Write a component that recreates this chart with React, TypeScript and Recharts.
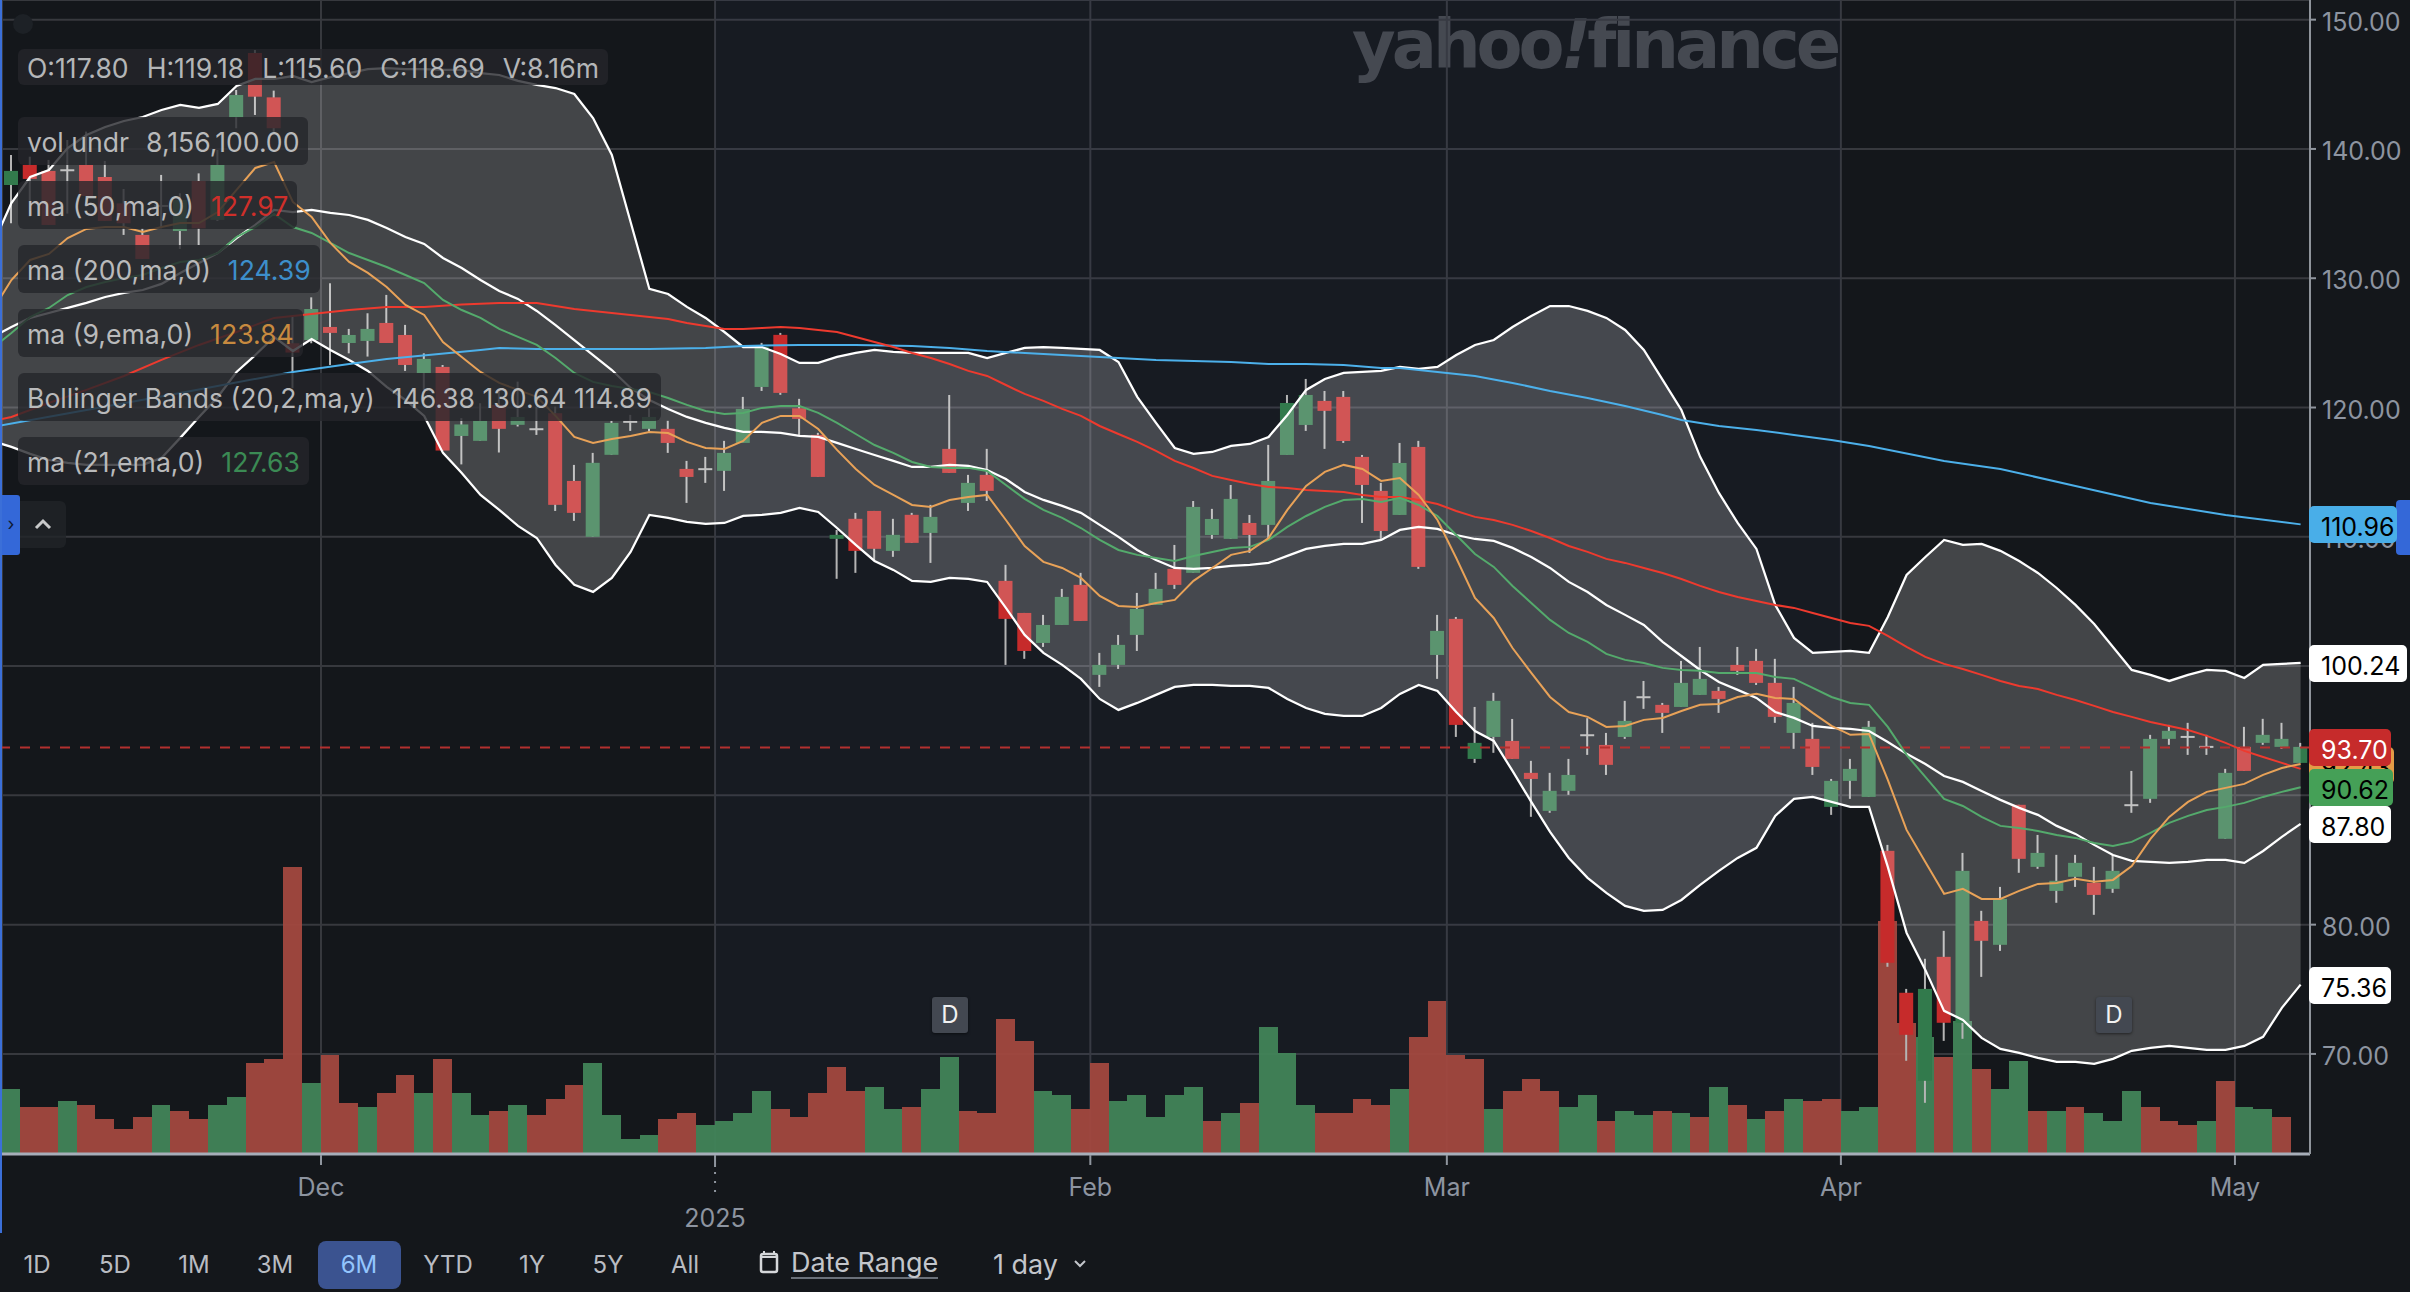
import React from "react"
import { ComposedChart, Bar, Line, Area, XAxis, YAxis, CartesianGrid, ReferenceArea, ReferenceLine } from "recharts"

const opens = [137.21,138.76,138.3,138.3,138.76,137.83,135.79,133.35,135.54,133.65,137.52,134.51,142.45,147.42,143.99,124.97,125.22,126.23,124.99,125.15,126.54,125.61,122.67,123.14,117.8,117.42,120.2,118.66,118.27,119.56,114.32,110,116.34,118.84,118.35,118.35,115.25,115.18,115.1,117.26,121.59,125.62,119.94,117.88,109.84,111.39,112,108.91,111.7,110.3,116.8,112.62,114.79,106.59,104.11,101.79,103.18,106.28,99.32,100.09,102.41,104.73,107.52,107.21,110.14,109.84,111.07,110.92,116.33,118.65,120.51,120.82,116.18,113.55,111.69,116.95,100.86,103.65,92.82,94.52,94.21,91.74,88.8,90.35,94.6,93.9,94.52,97.54,97,96.84,97.77,98.08,100.09,100.4,98.7,94.83,94.37,89.11,91.12,89.88,85.71,74.73,67.92,77.51,72.41,80.29,78.44,89.27,84.47,82.61,83.7,83.23,82.77,89.19,89.73,94.37,94.47,93.7,86.64,93.75,94.06,93.75,92.51]
const highs = [139.53,139.4,139.15,140.69,141.34,139.07,136.9,133.86,137.99,136.57,138.11,139.92,144.56,147.65,144.51,127.03,128.52,129.61,126.08,127.29,128.71,126.39,124.19,123.29,119.18,120.33,121.36,122,120.07,120.07,115.56,116.49,118.97,119.43,119.94,118.97,115.87,116.18,117.42,120.82,125,125.77,120.67,118.04,110.53,111.85,112,111.39,111.85,112.47,120.97,114.79,116.8,107.83,104.11,103.96,105.97,107.21,101.02,102.41,105.66,107.21,109.37,112.77,112.16,114.01,111.69,117.11,120.97,122.21,121.28,121.28,116.33,114.17,117.26,117.42,103.96,103.8,96.84,97.93,95.91,92.67,91.74,92.82,95.97,94.83,97.31,98.85,97.15,100.4,101.48,98.39,101.48,101.33,100.56,98.39,95.61,91.27,92.82,95.76,86.17,75.03,77.36,79.52,85.55,81.07,82.92,89.27,86.94,85.4,85.4,84.47,85.4,91.89,94.68,95.45,95.61,94.68,92.05,95.3,95.92,95.61,94.06]
const lows = [134.25,134.76,134.12,135,135.5,134.43,133.35,131.49,133.86,132.26,132.57,134.43,141.6,142.63,141.21,121.49,124.97,123.29,124.19,123.94,124.99,122.83,121.36,116.67,115.6,117.42,116.52,118.53,117.88,112,111.23,110,116.34,118.19,118.14,116.49,112.62,114.17,113.55,117.26,121.28,120.98,117.88,114.63,106.75,107.21,108.21,108.45,109.53,107.98,114.94,112,112.77,100.09,100.56,101.48,103.18,103.49,98.39,99.78,101.17,104.73,105.97,107.21,109.84,109.84,108.75,109.76,116.33,118.19,116.8,117.26,111.07,109.84,111.69,107.52,99.01,94.52,92.51,93.29,92.82,88.34,88.65,90.04,93.13,91.58,94.37,96.69,94.83,96.84,97.77,96.38,99.32,98.54,95.61,93.6,91.58,88.49,89.73,89.88,76.74,69.47,66.22,71.01,71.17,75.96,77.97,84.01,84.32,81.69,82.92,80.76,82.46,88.65,89.42,93.91,93.13,93.13,86.64,91.89,93.91,93.6,92.51]
const closes = [138.3,137.68,134.12,138.35,136.36,134.43,134.25,131.49,135.59,136.05,133.86,138.76,144.17,144.04,141.6,124.25,127.62,125.77,125.61,126.08,124.99,123.29,123.76,116.67,118.69,118.97,118.35,119.27,118.32,112.47,111.85,115.72,118.81,118.89,119.27,117.26,114.63,115.23,116.49,119.89,124.69,121.13,119.12,114.63,110.15,108.91,109.07,110.15,109.53,111.54,114.94,114.17,113.55,103.65,101.17,103.18,105.35,103.49,100.09,101.64,104.42,105.97,106.28,112.31,111.38,112.93,110.14,114.32,120.35,120.97,119.74,117.41,114.01,110.45,115.71,107.67,102.72,95.45,94.06,97.31,92.82,91.27,90.35,91.58,94.65,92.36,95.76,97.59,96.38,98.7,99.01,97.46,99.63,98.7,96.07,97.15,92.2,91.12,92.05,95.3,77.05,71.48,75.03,72.41,84.16,78.75,81.99,85.09,85.55,83.39,84.78,82.3,84.16,89.24,94.37,94.99,94.52,93.75,91.74,91.89,94.68,94.37,93.75]

const volumes = [8.69,6.27,6.27,7.08,6.54,4.66,3.32,4.93,6.54,5.73,4.66,6.54,7.62,12.19,12.72,38.53,9.5,13.26,6.81,6.27,8.15,10.57,8.15,12.72,8.16,5.2,5.73,6.54,5.2,7.35,9.23,12.19,5.2,1.97,2.51,4.66,5.47,3.85,4.39,5.47,8.42,6,4.93,8.15,11.65,8.42,8.96,6,6.27,8.69,12.99,5.73,5.47,18.1,15.14,8.42,7.88,6,12.19,7.08,7.88,4.93,7.88,8.96,4.39,5.47,6.81,17.02,13.53,6.54,5.47,5.47,7.35,6.54,8.69,15.68,20.52,13.26,12.72,6,8.42,10.04,8.42,6.27,7.88,4.39,5.73,5.2,5.73,5.47,4.93,8.96,6.54,4.66,5.73,7.35,7.08,7.35,5.73,6.27,31.27,17.56,15.68,12.99,17.83,11.38,8.69,12.45,5.73,5.73,6.27,5.47,4.39,8.42,6.27,4.39,3.85,4.39,9.77,6.27,6,4.93]
// g = up day, r = down day, as coloured in the volume pane
const volumeSides = "grrgrrrrgrrggrrrgrrgrrgrggrgrrrggggrrggggrrrrrggrggrrrrggrrgggggrgrgggrrrrgrrrrgrrrggrggrgrgrgrgrrggrrgrgrggrgrgggrrrgrggr"

const bbUpper = [132.57,135.82,137.83,138.37,140.07,141.08,141.7,142.16,142.47,143.01,143.4,143.17,143.48,144.87,145.41,145.41,145.64,145.18,145.56,145.87,146.18,146.26,146.18,146.18,146.11,146.11,145.87,145.72,145.26,144.95,144.71,144.25,142.39,139.53,134.35,129.17,128.78,127.78,126.93,125.84,124.68,124.68,124.14,123.45,123.45,123.91,124.22,124.45,124.3,124.22,124.22,124.22,124.22,123.83,124.22,124.61,124.68,124.61,124.53,124.45,123.52,120.82,118.81,116.87,116.41,116.56,117.03,117.18,117.72,119.42,121.36,122.21,122.67,122.75,122.83,123.14,122.98,123.14,124.06,124.84,125.22,126.23,127.08,127.85,127.85,127.47,126.93,126,124.45,122.13,119.81,116.18,113.39,111.07,109.06,104.73,102.18,101.02,101.09,101.17,101.02,103.8,107.05,108.44,109.76,109.37,109.45,108.91,108.13,107.2,106.04,104.73,103.26,101.48,99.7,99.32,98.85,99.32,99.7,99.63,99.08,100.09,100.17,100.24]
const bbMiddle = [125.46,126.23,126.93,127.31,127.7,128.09,128.55,128.86,129.09,129.56,130.41,131.18,131.95,133.11,134.12,135.28,135.12,135.28,135.05,134.89,134.51,133.89,133.19,132.65,131.57,130.79,129.86,129.01,128.4,127.47,126.38,125.22,124.06,122.9,121.51,120.58,119.89,119.27,118.81,118.42,118.11,118.11,118.03,117.8,117.72,117.26,116.79,116.33,115.87,115.4,115.4,115.56,115.48,115.17,114.47,113.47,112.85,112.39,111.85,110.92,109.99,108.98,108.21,107.59,107.51,107.59,107.75,107.82,107.98,108.52,109.06,109.29,109.45,109.45,109.76,110.53,110.76,110.61,110.14,109.83,109.68,109.14,108.44,107.59,106.51,105.73,104.73,103.96,103.18,101.87,100.78,99.7,98.77,98.16,97.54,96.45,95.99,95.37,95.22,95.14,94.98,94.13,93.21,92.43,91.5,91.04,90.34,89.65,89.03,88.49,87.64,87.02,86.17,85.39,84.93,84.85,84.78,84.85,85.01,85.01,84.78,85.7,86.79,87.8]
const bbLower = [117.41,116.95,116.41,115.94,115.71,115.56,115.56,115.56,115.56,116.1,117.65,119.27,120.82,122.75,124.06,125.46,124.37,125.3,124.45,123.68,122.83,121.59,120.58,119.35,116.49,114.94,113.24,112.08,110.84,109.91,107.82,106.28,105.74,106.82,108.83,111.69,111.46,111.15,110.99,111.07,111.61,111.69,111.85,112.23,111.92,110.68,109.37,108.13,107.44,106.59,106.51,106.82,106.74,106.51,104.5,102.41,101.02,100.09,99.01,97.46,96.61,97.15,97.77,98.39,98.54,98.54,98.46,98.46,98.31,97.46,96.76,96.3,96.14,96.14,96.76,97.85,98.54,98.08,96.45,94.98,94.21,91.89,89.49,87.17,85.16,83.62,82.46,81.45,81.06,81.14,81.91,83.07,84.16,85.16,85.94,88.41,89.73,89.88,89.49,89.11,89.11,84.47,79.36,76.5,73.33,72.63,71.24,70.39,70.08,69.69,69.38,69.38,69.23,69.62,70.24,70.47,70.62,70.47,70.31,70.31,70.62,71.32,73.56,75.36]
const ema9 = [127.54,129.86,131.41,131.88,133.11,133.81,133.96,133.96,133.58,133.96,134.27,134.27,135.12,136.83,138.53,138.99,135.9,134.74,132.73,131.26,130.41,129.32,127.93,127.16,125.07,123.91,122.75,121.9,121.36,120.82,119.35,117.72,117.26,117.57,117.8,118.11,118.03,117.34,116.87,116.79,117.41,118.81,119.35,119.35,118.34,116.72,115.25,114.01,113.24,112.46,112.31,112.85,113.08,113.24,111.3,109.29,108.06,107.59,106.82,105.43,104.65,104.57,104.88,105.12,106.59,107.59,108.6,108.91,109.91,112.08,113.93,115.02,115.56,115.25,114.32,114.55,113.24,111.3,108.36,105.27,103.72,101.4,99.47,97.61,96.45,96.07,95.29,95.37,95.84,95.99,96.53,97,97.07,97.61,97.85,97.54,97.46,96.38,95.37,94.68,94.75,91.19,87.33,84.85,82.38,82.77,81.99,81.99,82.61,83.15,83.23,83.54,83.31,83.46,84.54,86.63,88.33,89.49,90.27,90.58,90.89,91.58,92.12,92.43]
const ema21 = [124.61,125.77,127,127.7,128.7,129.32,129.71,130.02,130.25,130.79,131.26,131.41,131.95,133.19,133.96,134.97,133.96,133.5,132.73,131.95,131.41,130.87,130.25,129.63,128.32,127.54,126.93,126.08,125.46,124.84,123.83,122.67,121.98,121.67,121.43,121.2,120.74,120.2,119.73,119.5,119.58,119.97,120.12,120.12,119.58,118.81,117.95,117.1,116.49,115.79,115.4,115.33,115.33,115.09,114.01,112.93,112.08,111.46,110.68,109.76,108.98,108.6,108.36,108.13,108.52,108.83,109.14,109.22,109.76,110.76,111.61,112.31,112.85,112.93,112.7,113.01,112.46,111.61,110.14,108.67,107.67,106.2,104.88,103.57,102.56,101.87,100.94,100.48,100.24,99.86,99.7,99.63,99.47,99.47,99.47,99.16,99.01,98.31,97.61,97.15,97,95.29,93.13,91.43,89.73,89.18,88.33,87.64,87.48,87.25,86.94,86.71,86.32,86.09,86.4,87.1,87.87,88.41,88.87,89.11,89.42,89.88,90.27,90.62]

const ma50Days = [-1,0,2,4,6,8,10,12,14,16,18,20,22,24,26,28,29,30,31,32,33,34,35,36,37,38,39,40,41,42,43,44,45,46,47,48,49,50,51,52,53,54,55,56,57,58,59,60,61,62,63,64,65,66,67,68,69,70,71,72,73,74,75,76,77,78,79,80,81,82,83,84,85,86,87,88,89,90,91,92,93,94,95,96,97,98,99,100,101,102,103,104,105,106,107,108,109,110,111,112,113,114,115,116,117,118,119,120,121,122]
const ma50 = [118.96,119.27,120.35,121.36,122.44,123.68,124.84,125.84,126.93,127.24,127.54,127.78,127.78,127.97,128.09,128.09,127.85,127.62,127.47,127.31,127.16,127,126.85,126.54,126.31,126.08,126.08,126.15,126.23,126.15,126,125.84,125.46,125.07,124.68,124.22,123.83,123.37,122.83,122.44,121.74,121.05,120.51,119.89,119.35,118.57,117.95,117.34,116.64,115.87,115.32,114.71,114.4,114.09,113.86,113.78,113.62,113.55,113.47,113.24,113.08,113.08,112.85,112.54,112,111.54,111.3,110.92,110.45,109.91,109.29,108.83,108.29,107.98,107.59,107.2,106.74,106.2,105.73,105.35,105.04,104.73,104.5,104.11,103.72,103.34,103.11,102.33,101.48,100.71,100.17,99.78,99.32,98.85,98.46,98.23,97.77,97.38,96.92,96.45,96.07,95.68,95.37,95.06,94.6,94.06,93.44,92.97,92.51,92.05]
const ma200Days = [-1,4,9,15,18,20,25,26,28,31,34,37,39,42,45,48,50,52,55,57,59,61,63,65,67,69,71,73,74,76,78,80,82,84,86,88,89,91,93,95,97,99,103,106,110,114,118,122]
const ma200 = [118.5,119.81,121.13,122.75,123.37,123.76,124.45,124.61,124.53,124.53,124.53,124.61,124.76,124.84,124.84,124.76,124.61,124.37,124.14,123.99,123.83,123.68,123.6,123.52,123.37,123.37,123.29,123.06,123.06,122.75,122.44,121.9,121.28,120.74,120.12,119.42,119.04,118.57,118.26,117.88,117.49,117.03,115.87,115.25,113.93,112.62,111.69,110.96]

const lastClose = 93.7
const priceTicks = [70, 80, 90, 100, 110, 120, 130, 140, 150]
const dayTicks = [16.5, 37.5, 57.5, 76.5, 97.5, 118.5]
const dayTickLabels = ["Dec", "2025", "Feb", "Mar", "Apr", "May"]

const ohlcLabels = ["O:117.80", "H:119.18", "L:115.60", "C:118.69", "V:8.16m"]
const legendRows = [
  { text: "vol undr", value: "8,156,100.00", color: "#b9babb" },
  { text: "ma (50,ma,0)", value: "127.97", color: "#cf2f2a" },
  { text: "ma (200,ma,0)", value: "124.39", color: "#3d8fcb" },
  { text: "ma (9,ema,0)", value: "123.84", color: "#c78a3f" },
  { text: "Bollinger Bands (20,2,ma,y)", value: "146.38 130.64 114.89", color: "#b9babb" },
  { text: "ma (21,ema,0)", value: "127.63", color: "#3b8a54" },
]
const ranges = ["1D", "5D", "1M", "3M", "6M", "YTD", "1Y", "5Y", "All"]
const rangeCentres = [37, 115, 194, 275, 359, 448, 532, 608, 685]

const FONT = "Inter, 'Noto Sans', sans-serif"
const UP = "#327a4c"
const DOWN = "#c62b2b"
const VOL_UP = "#418459"
const VOL_DOWN = "#a2483f"

const ma50Map = new Map(ma50Days.map((d, i) => [d, ma50[i]]))
const ma200Map = new Map(ma200Days.map((d, i) => [d, ma200[i]]))

const rows = bbUpper.map((upper, n) => {
  const day = n - 1
  return {
    day,
    o: opens[day],
    h: highs[day],
    l: lows[day],
    c: closes[day],
    vol: volumes[day],
    band: [bbLower[n], upper],
    upper,
    middle: bbMiddle[n],
    lower: bbLower[n],
    ema9: ema9[n],
    ema21: ema21[n],
    ma50: ma50Map.get(day) ?? null,
    ma200: ma200Map.get(day) ?? null,
  }
})

function Candle(props: any) {
  const { x, y, width, height, payload } = props
  if (payload?.h == null || !Number.isFinite(y)) return null
  const k = height / (payload.h - payload.l)
  const at = (v: number) => y + (payload.h - v) * k
  const cx = x + width / 2
  const doji = Math.abs(payload.o - payload.c) < 0.12
  const up = payload.c >= payload.o
  const top = at(Math.max(payload.o, payload.c))
  const bottom = at(Math.min(payload.o, payload.c))
  return (
    <g>
      <line x1={cx} x2={cx} y1={y} y2={y + height} stroke="#b4b4b4" strokeWidth={2} />
      {doji
        ? <line x1={x} x2={x + width} y1={top} y2={top} stroke="#b4b4b4" strokeWidth={2} />
        : <rect x={x} y={top} width={width} height={bottom - top} fill={up ? UP : DOWN} />}
    </g>
  )
}

function VolumeBar(props: any) {
  const { x, y, width, height, payload } = props
  if (payload?.vol == null || !Number.isFinite(y)) return null
  const w = 18.76
  return (
    <rect
      x={x + width / 2 - w / 2}
      y={y}
      width={w}
      height={height}
      fill={volumeSides[payload.day] === "g" ? VOL_UP : VOL_DOWN}
      fillOpacity={0.95}
      shapeRendering="crispEdges"
    />
  )
}

function DayTick(props: any) {
  const { x, payload } = props
  const label = dayTickLabels[dayTicks.indexOf(payload.value)]
  const isYear = label === "2025"
  return (
    <g>
      <line x1={x} x2={x} y1={1155} y2={isYear ? 1167 : 1165} stroke="#8f959e" strokeWidth={2} />
      {isYear && <line x1={x} x2={x} y1={1172} y2={1192} stroke="#8f959e" strokeWidth={2} strokeDasharray="2 7" />}
      <text x={x} y={isYear ? 1227 : 1196} textAnchor="middle" fontSize={25} fontFamily={FONT} fill="#8d94a0">{label}</text>
    </g>
  )
}

function PriceTick(props: any) {
  const { x, y, payload } = props
  return <text x={x} y={y + 11} fontSize={25} fontFamily={FONT} fill="#8d94a0">{payload.value.toFixed(2)}</text>
}

const pill = (top: number, left: number, text: string, bg: string, color: string, width = 82) => (
  <div style={{ position: "absolute", top, left, width, height: 37, background: bg, color, borderRadius: 5, fontFamily: FONT, fontSize: 25, lineHeight: "43px", paddingLeft: 12, boxSizing: "border-box", overflow: "hidden" }}>{text}</div>
)

const dBadge = (left: number) => (
  <div style={{ position: "absolute", top: 997, left, width: 36, height: 36, background: "#434851", borderRadius: 3, color: "#f2f2f2", fontFamily: FONT, fontSize: 24, lineHeight: "36px", textAlign: "center", boxShadow: "0 1px 3px rgba(0,0,0,.5)" }}>D</div>
)

export default function App() {
  return (
    <div style={{ position: "absolute", left: 0, top: 0, width: 2410, height: 1292, background: "#14171b", overflow: "hidden", fontFamily: FONT }}>
      {/* watermark sits under the transparent chart */}
      <div style={{ position: "absolute", left: 1352, top: 0, fontFamily: "'DejaVu Sans', sans-serif", fontWeight: 700, fontSize: 67, color: "#46494e", letterSpacing: -4, lineHeight: "90px", whiteSpace: "nowrap" }}>yahoo<i>!</i>finance</div>

      <div style={{ position: "absolute", left: 0, top: 0 }}>
        <ComposedChart width={2410} height={1292} data={rows} margin={{ top: 0, right: 0, bottom: 0, left: 2 }}>
          <ReferenceArea x1={37.5} x2={97.5} y1={62.26} y2={151.52} fill="#3a4f80" fillOpacity={0.08} stroke="none" />
          <XAxis
            dataKey="day"
            type="number"
            domain={[-0.5, 122.5]}
            allowDataOverflow
            ticks={dayTicks}
            interval={0}
            height={138}
            tick={<DayTick />}
            tickLine={false}
            axisLine={{ stroke: "#a7aeb9", strokeWidth: 3 }}
          />
          <XAxis xAxisId="vol" dataKey="day" type="number" domain={[-0.5, 122.5]} allowDataOverflow hide />
          <YAxis
            orientation="right"
            width={100}
            domain={[62.26, 151.52]}
            allowDataOverflow
            ticks={priceTicks}
            interval={0}
            tick={<PriceTick />}
            tickSize={6}
            tickMargin={6}
            tickLine={{ stroke: "#8f959e", strokeWidth: 2 }}
            axisLine={{ stroke: "#8f949b", strokeWidth: 2 }}
          />
          <YAxis yAxisId="vol" domain={[0, 155]} hide />
          <CartesianGrid stroke="#37393e" strokeWidth={2} />

          <Bar xAxisId="vol" yAxisId="vol" dataKey="vol" barSize={18} shape={<VolumeBar />} isAnimationActive={false} />
          <Bar dataKey={(r: any) => (r.h == null ? null : [r.l, r.h])} barSize={14} shape={<Candle />} isAnimationActive={false} />

          <ReferenceLine y={lastClose} stroke="#b3302f" strokeWidth={2} strokeDasharray="10 10" />

          <Area dataKey="band" stroke="none" fill="#ffffff" fillOpacity={0.2} isAnimationActive={false} dot={false} activeDot={false} zIndex={350} />
          <Line dataKey="upper" stroke="#ffffff" strokeWidth={2.25} dot={false} isAnimationActive={false} />
          <Line dataKey="middle" stroke="#ffffff" strokeWidth={2.25} dot={false} isAnimationActive={false} />
          <Line dataKey="lower" stroke="#ffffff" strokeWidth={2.25} dot={false} isAnimationActive={false} />
          <Line dataKey="ma200" stroke="#4cb0ea" strokeWidth={2} dot={false} connectNulls isAnimationActive={false} />
          <Line dataKey="ma50" stroke="#ee3a2e" strokeWidth={2} dot={false} connectNulls isAnimationActive={false} />
          <Line dataKey="ema21" stroke="#54aa6c" strokeWidth={2} dot={false} isAnimationActive={false} />
          <Line dataKey="ema9" stroke="#e8a258" strokeWidth={2} dot={false} isAnimationActive={false} />
        </ComposedChart>
      </div>

      {/* left accent and collapse controls */}
      <div style={{ position: "absolute", left: 0, top: 0, width: 2, height: 1233, background: "#3b6fd8" }} />
      <div style={{ position: "absolute", left: 13, top: 14, width: 20, height: 20, borderRadius: 10, background: "#1d2126" }} />
      <div style={{ position: "absolute", left: 2, top: 495, width: 18, height: 60, background: "#3468d8", borderRadius: "0 3px 3px 0", color: "#0f1a33", fontSize: 18, lineHeight: "58px", textAlign: "center" }}>›</div>
      <div style={{ position: "absolute", left: 20, top: 501, width: 46, height: 47, background: "rgba(33,36,40,.8)", borderRadius: "0 6px 6px 0" }}>
        <svg width={46} height={47}><path d="M16 27 L23 20 L30 27" fill="none" stroke="#c8c9ca" strokeWidth={3} /></svg>
      </div>
      <div style={{ position: "absolute", left: 2396, top: 500, width: 14, height: 55, background: "#3468d8", borderRadius: "4px 0 0 4px" }} />

      {/* OHLC strip and indicator legend */}
      <div style={{ position: "absolute", left: 18, top: 49, height: 36, padding: "0 9px", display: "flex", gap: 18, background: "rgba(36,38,42,.8)", borderRadius: 6, color: "#b4b6b8", fontSize: 26.6, lineHeight: "38px", whiteSpace: "pre" }}>
        {ohlcLabels.map((t) => <span key={t}>{t}</span>)}
      </div>
      {legendRows.map((row, i) => (
        <div key={row.text} style={{ position: "absolute", left: 18, top: 117 + i * 64, height: 48, padding: "0 9px", background: "rgba(36,38,42,.8)", borderRadius: 6, color: "#b9babb", fontSize: 26.6, lineHeight: "50px", whiteSpace: "pre" }}>
          {row.text}<span style={{ color: row.color, marginLeft: 17 }}>{row.value}</span>
        </div>
      ))}

      {dBadge(932)}
      {dBadge(2096)}

      {/* last-value flags on the price axis */}
      {pill(506, 2309, "110.96", "#49aee8", "#000", 88)}
      {pill(645, 2309, "100.24", "#ffffff", "#000", 98)}
      {pill(747, 2309, "92.43", "#e49b46", "#000", 85)}
      {pill(729, 2309, "93.70", "#c62b2b", "#fff")}
      {pill(769, 2309, "90.62", "#45a057", "#000", 84)}
      {pill(806, 2309, "87.80", "#ffffff", "#000")}
      {pill(967, 2309, "75.36", "#ffffff", "#000")}

      {/* range toolbar */}
      <div style={{ position: "absolute", left: 318, top: 1241, width: 83, height: 48, background: "#3b5390", borderRadius: 8 }} />
      {ranges.map((r, i) => (
        <div key={r} style={{ position: "absolute", left: rangeCentres[i] - 40, width: 80, top: 1245, textAlign: "center", fontSize: 24, lineHeight: "40px", color: r === "6M" ? "#93c5fd" : "#b9bcc2" }}>{r}</div>
      ))}
      <svg style={{ position: "absolute", left: 759, top: 1250 }} width={20} height={24}>
        <rect x={2} y={4} width={16} height={18} rx={2} fill="none" stroke="#d5d7da" strokeWidth={2.5} />
        <path d="M5 1 V5 M15 1 V5 M2 7 H18" stroke="#d5d7da" strokeWidth={2} />
      </svg>
      <div style={{ position: "absolute", left: 791, top: 1243, fontSize: 27, lineHeight: "40px", color: "#c3c6cb", borderBottom: "2px solid #6a7079", height: 34 }}>Date Range</div>
      <div style={{ position: "absolute", left: 993, top: 1245, fontSize: 27, lineHeight: "40px", color: "#c3c6cb" }}>1 day</div>
      <svg style={{ position: "absolute", left: 1073, top: 1258 }} width={14} height={12}><path d="M2 3 L7 8 L12 3" fill="none" stroke="#c3c6cb" strokeWidth={2} /></svg>
    </div>
  )
}
